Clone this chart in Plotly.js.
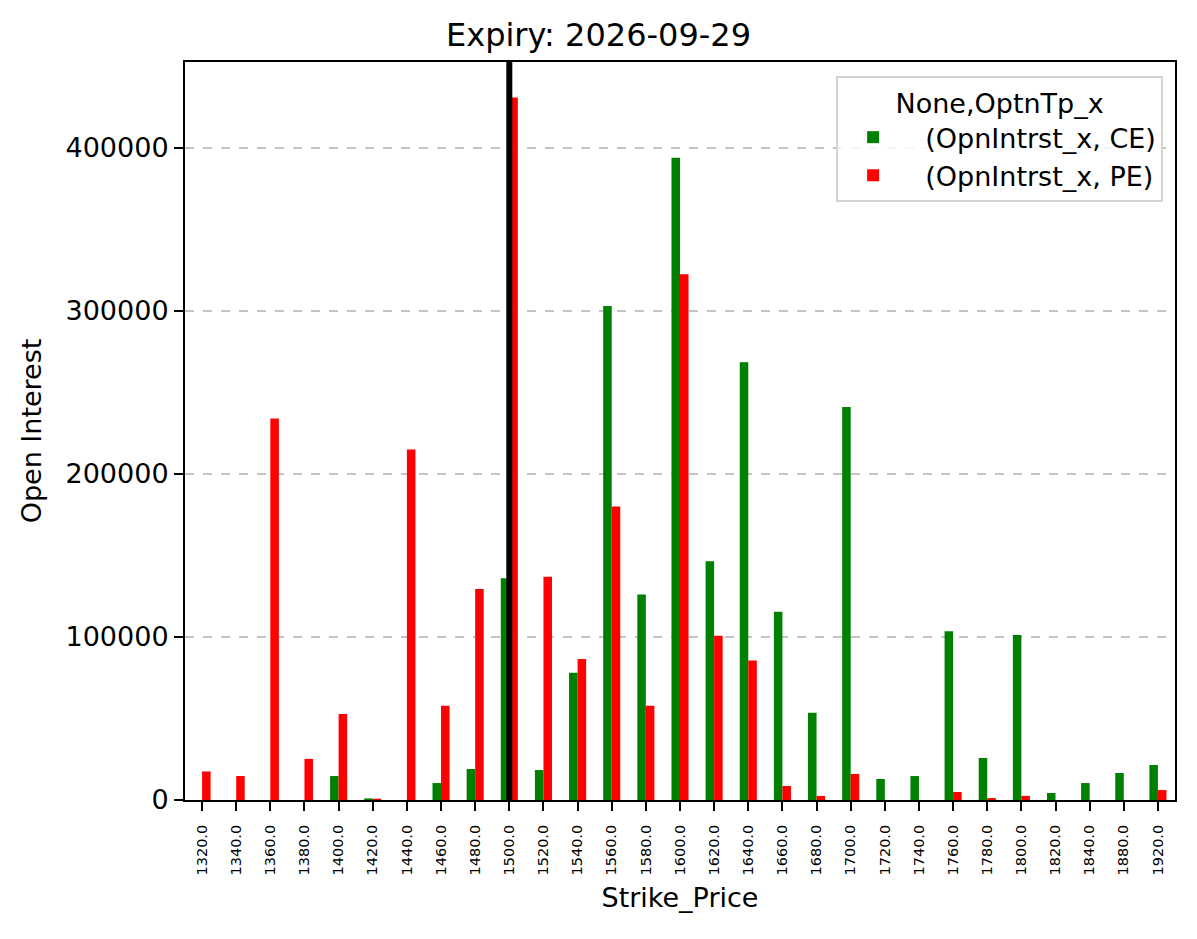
<!DOCTYPE html>
<html>
<head>
<meta charset="utf-8">
<script src="https://cdn.plot.ly/plotly-3.0.1.min.js"></script>
<style>html,body{margin:0;padding:0;background:#fff;}#chart{width:1197px;height:939px;}</style>
</head>
<body>
<div id="chart"></div>
<script>
const strikes = ["1320.0","1340.0","1360.0","1380.0","1400.0","1420.0","1440.0","1460.0","1480.0","1500.0","1520.0","1540.0","1560.0","1580.0","1600.0","1620.0","1640.0","1660.0","1680.0","1700.0","1720.0","1740.0","1760.0","1780.0","1800.0","1820.0","1840.0","1880.0","1920.0"];
const ceValues = [0,0,0,0,14700,1000,0,10400,19000,136000,18400,78000,303000,126000,394000,146500,268500,115500,53500,241000,12900,14700,103500,25800,101200,4300,10400,16600,21500];
const peValues = [17500,14700,234000,25200,52800,800,215000,57800,129500,431000,137000,86500,180000,57800,322500,100800,85500,8600,2500,16000,0,0,4900,1200,2500,0,0,0,6100];
const spotStrike = "1500.0";
const yTicks = [0,100000,200000,300000,400000];

const font = "DejaVu Sans, Liberation Sans, sans-serif";
const spotIndex = strikes.indexOf(spotStrike);
const traces = [
  {type:"bar", name:"  (OpnIntrst_x, CE)", x:strikes, y:ceValues, marker:{color:"#008000"}},
  {type:"bar", name:"  (OpnIntrst_x, PE)", x:strikes, y:peValues, marker:{color:"#ff0000"}}
];
const layout = {
  width:1197, height:939,
  margin:{l:185, r:22, t:62, b:139},
  paper_bgcolor:"#fff", plot_bgcolor:"#fff",
  font:{family:font, color:"#000"},
  barmode:"group", bargap:0.5, bargroupgap:0,
  title:{text:"Expiry: 2026-09-29", font:{size:32, family:font}, x:0.5, xanchor:"center", y:0.963, yanchor:"middle"},
  xaxis:{type:"category", range:[-0.5,28.5], tickangle:-90, tickfont:{size:14.5}, ticks:"outside", ticklen:9, tickwidth:2, tickcolor:"#000",
         ticklabelstandoff:8,
         showline:true, mirror:true, linecolor:"#000", linewidth:2, showgrid:false, zeroline:false,
         title:{text:"Strike_Price", font:{size:27}, standoff:14}},
  yaxis:{range:[0,452700], tickvals:yTicks, ticktext:yTicks.map(String), tickfont:{size:27}, ticks:"outside", ticklen:9, tickwidth:2, tickcolor:"#000",
         showline:true, mirror:true, linecolor:"#000", linewidth:2, showgrid:true, gridcolor:"#c4c4c4", griddash:"dash", gridwidth:1.4, zeroline:false,
         title:{text:"Open Interest", font:{size:27}, standoff:16}},
  legend:{x:0.988, xanchor:"right", y:0.981, yanchor:"top", bgcolor:"rgba(255,255,255,0.85)", bordercolor:"#d4d4d4", borderwidth:2,
          font:{size:27}, title:{text:"None,OptnTp_x", side:"top center", font:{size:27}}, itemwidth:60},
  shapes:[{type:"line", xref:"x", yref:"paper", x0:spotIndex, x1:spotIndex, y0:0, y1:1, line:{color:"#000", width:6}, layer:"above"}]
};
Plotly.newPlot("chart", traces, layout, {displayModeBar:false, staticPlot:true});
</script>
</body>
</html>
